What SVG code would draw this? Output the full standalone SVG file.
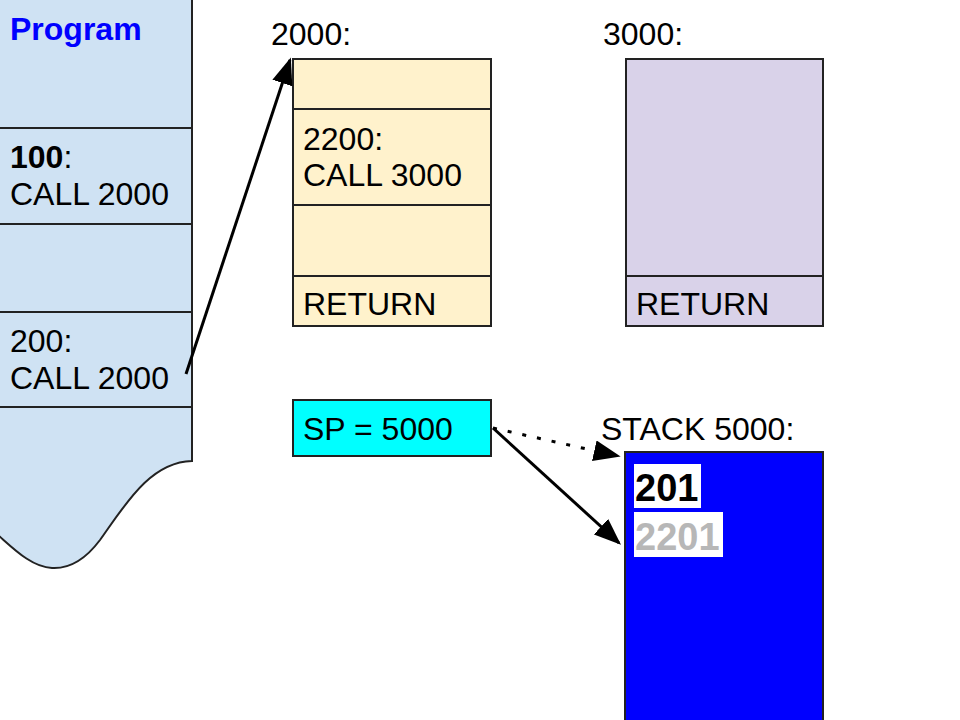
<svg xmlns="http://www.w3.org/2000/svg" width="960" height="720" viewBox="0 0 960 720">
<defs>
<style>
text{font-family:"Liberation Sans",Arial,sans-serif;font-size:32px;fill:#000}
.box{stroke:#222;stroke-width:2}
.b{font-weight:bold}
.big{font-size:38px;font-weight:bold}
.conn{stroke:#000;stroke-width:3;fill:none}
</style>
<marker id="ah" viewBox="0 0 10 10" refX="9" refY="5" markerWidth="9" markerHeight="7" orient="auto" markerUnits="strokeWidth" preserveAspectRatio="none">
<path d="M0,0 L10,5 L0,10 z" fill="#000"/>
</marker>
</defs>
<rect width="960" height="720" fill="#fff"/>
<g id="program">
<path class="box" fill="#cfe2f3" d="M-2,-2 H192 V461 C150,462 125,505 100,540 C85,560 70,569 52,568 C32,567 15,550 -2,535 Z"/>
<line class="box" x1="0" y1="128" x2="192" y2="128"/>
<line class="box" x1="0" y1="224" x2="192" y2="224"/>
<line class="box" x1="0" y1="312" x2="192" y2="312"/>
<line class="box" x1="0" y1="407" x2="192" y2="407"/>
<text class="b" x="10" y="40" style="fill:#0000ff">Program</text>
<text x="10" y="168"><tspan class="b">100</tspan>:</text>
<text x="10" y="205">CALL 2000</text>
<text x="10" y="352">200:</text>
<text x="10" y="389">CALL 2000</text>
</g>
<g id="sub2000">
<text x="271" y="45">2000:</text>
<rect class="box" x="293" y="59" width="198" height="267" fill="#fff2cc"/>
<line class="box" x1="293" y1="109" x2="491" y2="109"/>
<line class="box" x1="293" y1="205" x2="491" y2="205"/>
<line class="box" x1="293" y1="276" x2="491" y2="276"/>
<text x="303" y="150">2200:</text>
<text x="303" y="186">CALL 3000</text>
<text x="303" y="315">RETURN</text>
</g>
<g id="sub3000">
<text x="603" y="45">3000:</text>
<rect class="box" x="626" y="59" width="197" height="267" fill="#d9d2e9"/>
<line class="box" x1="626" y1="276" x2="823" y2="276"/>
<text x="636" y="315">RETURN</text>
</g>
<g id="sp">
<rect class="box" x="293" y="400" width="198" height="56" fill="#00ffff"/>
<text x="303" y="440">SP = 5000</text>
</g>
<g id="stack">
<text x="601" y="440">STACK 5000:</text>
<rect class="box" x="625" y="452" width="198" height="280" fill="#0000ff"/>
<rect x="634" y="464" width="67" height="44" fill="#fff"/>
<rect x="634" y="512" width="89" height="45" fill="#fff"/>
<text class="big" x="635" y="501">201</text>
<text class="big" x="635" y="550" style="fill:#b7b7b7">2201</text>
</g>
<g id="connectors">
<line class="conn" x1="186" y1="374" x2="290" y2="60" marker-end="url(#ah)"/>
<line class="conn" x1="493" y1="428" x2="618" y2="456" stroke-dasharray="4,11" marker-end="url(#ah)"/>
<line class="conn" x1="493" y1="428" x2="619" y2="543" marker-end="url(#ah)"/>
</g>
</svg>
